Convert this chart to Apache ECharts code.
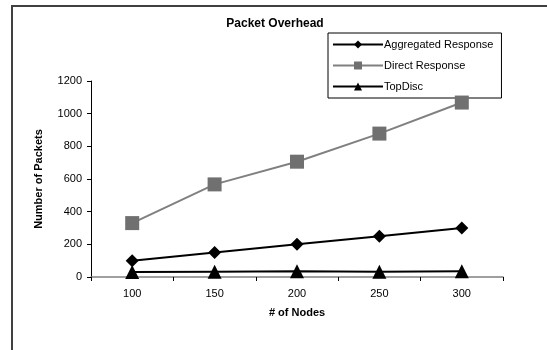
<!DOCTYPE html>
<html>
<head>
<meta charset="utf-8">
<script src="https://cdn.jsdelivr.net/npm/echarts@6/dist/echarts.min.js"></script>
<style>
  html, body { margin: 0; padding: 0; background: #fff; }
  #chart { width: 547px; height: 350px; }
</style>
</head>
<body>
<div id="chart"></div>
<script>
// Network sizes on the x axis
const nodeCounts = ['100', '150', '200', '250', '300'];
// Packets sent per protocol variant
const aggregatedResponse = [100, 150, 200, 250, 300];
const directResponse = [330, 567, 706, 878, 1068];
const topDisc = [30, 32, 35, 32, 35];
// Value axis settings
const yMax = 1200;
const yStep = 200;

const chart = echarts.init(document.getElementById('chart'), null, { renderer: 'canvas' });
const font = 'Arial, "Liberation Sans", sans-serif';

chart.setOption({
  animation: false,
  backgroundColor: '#fff',
  title: {
    text: 'Packet Overhead',
    left: 270, top: 13, textAlign: 'center',
    textStyle: { fontFamily: font, fontSize: 12, fontWeight: 'bold', color: '#000' }
  },
  graphic: [{
    type: 'polyline',
    shape: { points: [[12, 350], [12, 6], [547, 6]] },
    style: { stroke: '#404040', lineWidth: 2, fill: null }
  }],
  legend: {
    orient: 'vertical',
    left: 328, top: 33,
    z: 1,
    padding: [6, 8, 6, 4],
    itemGap: 10,
    itemWidth: 50, itemHeight: 10,
    borderColor: '#000', borderWidth: 1,
    backgroundColor: '#fff',
    textStyle: { fontFamily: font, fontSize: 11, color: '#000', padding: [0, 0, 0, -4] },
    data: ['Aggregated Response', 'Direct Response', 'TopDisc']
  },
  grid: { left: 91, right: 44, top: 81, bottom: 73 },
  xAxis: {
    type: 'category',
    data: nodeCounts,
    boundaryGap: true,
    name: '# of Nodes',
    nameLocation: 'middle',
    nameGap: 30,
    nameTextStyle: { fontFamily: font, fontSize: 11, fontWeight: 'bold', color: '#000' },
    axisLine: { lineStyle: { color: '#808080', width: 1.5 } },
    axisTick: { show: true, length: 4, lineStyle: { color: '#000' } },
    axisLabel: { fontFamily: font, fontSize: 11, color: '#000', margin: 11 }
  },
  yAxis: {
    type: 'value',
    min: 0, max: yMax, interval: yStep,
    name: 'Number of Packets',
    nameLocation: 'middle',
    nameGap: 47,
    nameTextStyle: { fontFamily: font, fontSize: 11, fontWeight: 'bold', color: '#000' },
    axisLine: { show: true, lineStyle: { color: '#000', width: 1 } },
    axisTick: { show: true, length: 4, lineStyle: { color: '#000' } },
    splitLine: { show: false },
    axisLabel: {
      fontFamily: font, fontSize: 11, color: '#000', margin: 9,
      formatter: v => String(v)
    }
  },
  series: [
    {
      name: 'Aggregated Response', type: 'line', data: aggregatedResponse, z: 3,
      symbol: 'diamond', symbolSize: 13,
      lineStyle: { color: '#000', width: 2 },
      itemStyle: { color: '#000' }
    },
    {
      name: 'Direct Response', type: 'line', data: directResponse, z: 3,
      symbol: 'rect', symbolSize: 14,
      lineStyle: { color: '#808080', width: 2 },
      itemStyle: { color: '#707070' }
    },
    {
      name: 'TopDisc', type: 'line', data: topDisc, z: 3,
      symbol: 'triangle', symbolSize: 14,
      lineStyle: { color: '#000', width: 2 },
      itemStyle: { color: '#000' }
    }
  ]
});
</script>
</body>
</html>
